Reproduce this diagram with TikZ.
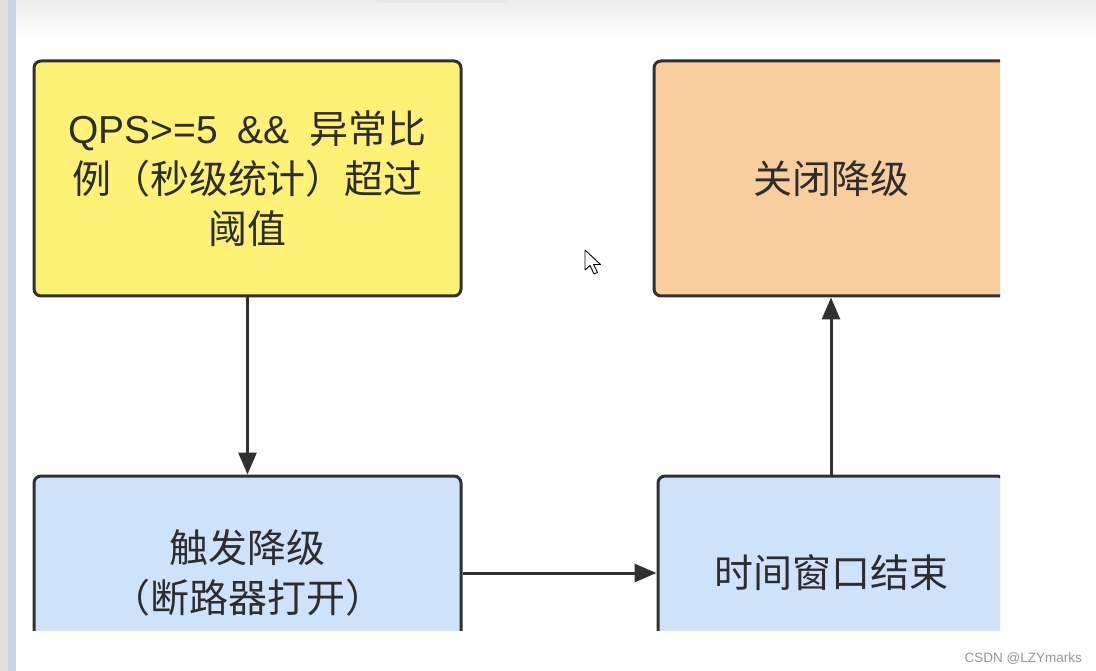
\documentclass[tikz,border=0pt]{standalone}
\usepackage{fontspec}
\newfontfamily\cjk{Noto Sans CJK SC}
\newfontfamily\latn{Liberation Sans}
\newfontfamily\wmfont{Liberation Sans}
\usetikzlibrary{arrows.meta}
\definecolor{bordc}{RGB}{48,48,48}
\definecolor{txtc}{RGB}{45,45,45}
\definecolor{yelfill}{RGB}{253,242,118}
\definecolor{orgfill}{RGB}{249,206,158}
\definecolor{bluefill}{RGB}{206,226,249}
\definecolor{stripa}{RGB}{222,222,222}
\definecolor{stripb}{RGB}{200,212,228}
\definecolor{wmc}{RGB}{150,150,150}
\tikzset{
  flowbox/.style={draw=bordc, line width=3pt, rounded corners=7pt, inner sep=0pt,
    align=center, text=txtc, font=\cjk\fontsize{39}{50}\selectfont},
  flowarrow/.style={draw=bordc, line width=3pt, -{Triangle[length=22pt,width=18pt]}}
}
\begin{document}
\begin{tikzpicture}[x=1pt,y=-1pt]
\useasboundingbox (0,0) rectangle (1096,671);
\fill[white] (0,0) rectangle (1096,671);
\shade[top color=black!7, bottom color=white] (16,0) rectangle (1096,38);
\fill[black!9, rounded corners=2pt] (376,-3) rectangle (506,3);
\fill[stripa] (0,0) rectangle (8,671);
\fill[stripb] (8,0) rectangle (16,671);
\begin{scope}
  \clip (16,38) rectangle (1000,630);
  \node[flowbox, fill=yelfill, minimum width=427pt, minimum height=235pt] (cond) at (247.5,178.5)
    {{\latn QPS>=5\hspace{20pt}\&\&\hspace{20pt}}异常比\\例（秒级统计）超过\\阈值};
  \node[flowbox, fill=orgfill, minimum width=354pt, minimum height=235pt] (close) at (831,178.5)
    {关闭降级};
  \node[flowbox, fill=bluefill, minimum width=427pt, minimum height=194pt] (trig) at (247.5,573)
    {触发降级\\（断路器打开）};
  \node[flowbox, fill=bluefill, minimum width=346pt, minimum height=194pt] (win) at (831,573)
    {时间窗口结束};
  \draw[flowarrow] (cond.south) -- (trig.north);
  \draw[flowarrow] (trig.east) -- (win.west);
  \draw[flowarrow] (win.north) -- (close.south);
\end{scope}
% mouse cursor
\draw[black, line width=0.9pt, fill=white, line join=round]
  (585,250) -- (585,270) -- (590,265.5) -- (594,274) -- (597.5,272.5) -- (593.5,264.5) -- (600.5,264.5) -- cycle;
\node[anchor=base east, inner sep=0pt, font=\wmfont\fontsize{13.5}{16}\selectfont, text=wmc] (wm) at (1082,662) {CSDN @LZYmarks};
\end{tikzpicture}
\end{document}
